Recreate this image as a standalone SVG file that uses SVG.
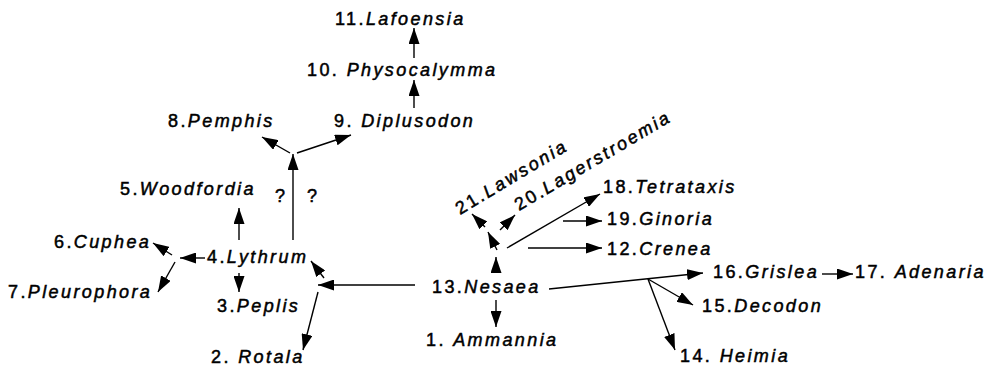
<svg xmlns="http://www.w3.org/2000/svg" width="989" height="370" viewBox="0 0 989 370">
<style>
text{font-family:"Liberation Sans",Arial,sans-serif;font-size:18px;letter-spacing:2.4px;fill:#000;stroke:#000;stroke-width:0.5}
.i{font-style:italic}
.c line{stroke:#000;stroke-width:1.4;marker-end:url(#ah)}
</style>
<defs>
<marker id="ah" viewBox="0 0 16 11" refX="16" refY="5.5" markerWidth="16" markerHeight="11" markerUnits="userSpaceOnUse" orient="auto"><path d="M0,0 L16,5.5 L0,11 z" fill="#000"/></marker>
</defs>
<rect width="989" height="370" fill="#fff"/>
<g id="n11"><text x="335" y="25">11.<tspan class="i">Lafoensia</tspan></text></g>
<g id="n10"><text x="307" y="76">10. <tspan class="i">Physocalymma</tspan></text></g>
<g id="n9"><text x="334" y="127">9. <tspan class="i">Diplusodon</tspan></text></g>
<g id="n8"><text x="168" y="127">8.<tspan class="i">Pemphis</tspan></text></g>
<g id="n5"><text x="120" y="195">5.<tspan class="i">Woodfordia</tspan></text></g>
<g id="q"><text x="275" y="202">?</text><text x="307" y="202">?</text></g>
<g id="n6"><text x="54" y="248">6.<tspan class="i">Cuphea</tspan></text></g>
<g id="n4"><text x="207" y="263">4.<tspan class="i">Lythrum</tspan></text></g>
<g id="n7"><text x="8" y="298">7.<tspan class="i">Pleurophora</tspan></text></g>
<g id="n3"><text x="217" y="312">3.<tspan class="i">Peplis</tspan></text></g>
<g id="n2"><text x="211" y="363">2. <tspan class="i">Rotala</tspan></text></g>
<g id="n13"><text x="432" y="293">13.<tspan class="i">Nesaea</tspan></text></g>
<g id="n1"><text x="426" y="346">1. <tspan class="i">Ammannia</tspan></text></g>
<g id="n21"><text transform="translate(460,215) rotate(-31)">21.<tspan class="i">Lawsonia</tspan></text></g>
<g id="n20"><text transform="translate(519,211) rotate(-30.5)">20.<tspan class="i">Lagerstroemia</tspan></text></g>
<g id="n18"><text x="603" y="193">18.<tspan class="i">Tetrataxis</tspan></text></g>
<g id="n19"><text x="607" y="225">19.<tspan class="i">Ginoria</tspan></text></g>
<g id="n12"><text x="607" y="255">12.<tspan class="i">Crenea</tspan></text></g>
<g id="n16"><text x="713" y="278">16.<tspan class="i">Grislea</tspan></text></g>
<g id="n17"><text x="855" y="278">17. <tspan class="i">Adenaria</tspan></text></g>
<g id="n15"><text x="702" y="312">15.<tspan class="i">Decodon</tspan></text></g>
<g id="n14"><text x="680" y="362">14. <tspan class="i">Heimia</tspan></text></g>
<g id="connectors" class="c">
<line x1="414" y1="58" x2="414" y2="28"/>
<line x1="414" y1="108" x2="414" y2="80"/>
<line x1="293" y1="240" x2="293" y2="154"/>
<line x1="290" y1="153" x2="262" y2="137"/>
<line x1="297" y1="153" x2="351" y2="135"/>
<line x1="239" y1="240" x2="239" y2="208"/>
<line x1="239" y1="273" x2="239" y2="292"/>
<line x1="205" y1="258" x2="180" y2="258"/>
<line x1="172" y1="255" x2="153" y2="243"/>
<line x1="175" y1="262" x2="158" y2="292"/>
<line x1="415" y1="285" x2="318" y2="285"/>
<line x1="324" y1="278" x2="311" y2="261"/>
<line x1="318" y1="292" x2="303" y2="350"/>
<line x1="496" y1="300" x2="496" y2="327"/>
<line x1="496" y1="272" x2="496" y2="257"/>
<line x1="497" y1="250" x2="488" y2="232"/>
<line x1="485" y1="227" x2="472" y2="214"/>
<line x1="500" y1="230" x2="515" y2="215"/>
<line x1="507" y1="248" x2="600" y2="194"/>
<line x1="563" y1="221" x2="602" y2="221"/>
<line x1="528" y1="248" x2="602" y2="248"/>
<line x1="549" y1="289" x2="703" y2="273"/>
<line x1="648" y1="279" x2="693" y2="305"/>
<line x1="648" y1="279" x2="675" y2="350"/>
<line x1="822" y1="274" x2="853" y2="274"/>
</g>
</svg>
